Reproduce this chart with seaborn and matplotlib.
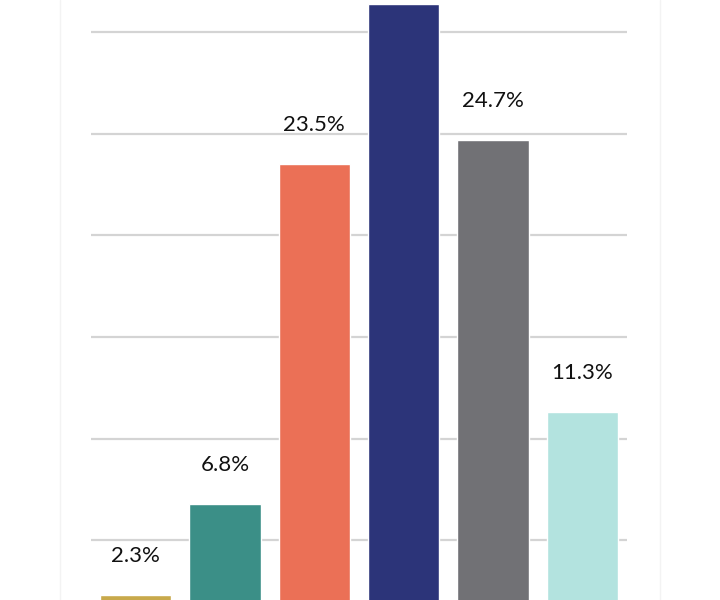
import matplotlib
matplotlib.use("Agg")
import matplotlib.pyplot as plt
import seaborn as sns
import pandas as pd
from matplotlib.lines import Line2D

categories = ["Cat 1", "Cat 2", "Cat 3", "Cat 4", "Cat 5", "Cat 6"]
values = [2.3, 6.8, 23.5, 31.4, 24.7, 11.3]
labels = ["2.3%", "6.8%", "23.5%", "31.4%", "24.7%", "11.3%"]
colors = ["#c8a94b", "#3b8f87", "#eb7056", "#2c3479", "#717175", "#b3e3df"]

df = pd.DataFrame({"cat": categories, "val": values})

sns.set_theme(style="white")
plt.rcParams["font.family"] = ["Lato", "DejaVu Sans"]

fig = plt.figure(figsize=(7.2, 6.0), dpi=100)
ax = fig.add_axes([91/720, -42/600, 536/720, 650.7/600])

sns.barplot(data=df, x="cat", y="val", hue="cat", palette=colors, order=categories,
            hue_order=categories, width=0.8, legend=False, ax=ax, saturation=1)

ax.set_ylim(0, 32)
ax.set_xlim(-0.5, 5.5)
ax.set_yticks([0, 5, 10, 15, 20, 25, 30])
ax.yaxis.grid(True, color="#d4d4d4", linewidth=1.6)
ax.set_axisbelow(True)
ax.set_yticklabels([])
ax.set_xticks([])
ax.set_xlabel("")
ax.set_ylabel("")
ax.tick_params(left=False, bottom=False)
for s in ax.spines.values():
    s.set_visible(False)

for i, (v, t) in enumerate(zip(values, labels)):
    ax.annotate(t, (i, v), xytext=(0, 28), textcoords="offset points",
                ha="center", va="center", fontsize=16, color="#111111")

for xpx in (60, 660):
    fig.add_artist(Line2D([xpx/720, xpx/720], [0, 1], color="#f3f3f3", linewidth=1))

fig.savefig("out.png", dpi=100)
